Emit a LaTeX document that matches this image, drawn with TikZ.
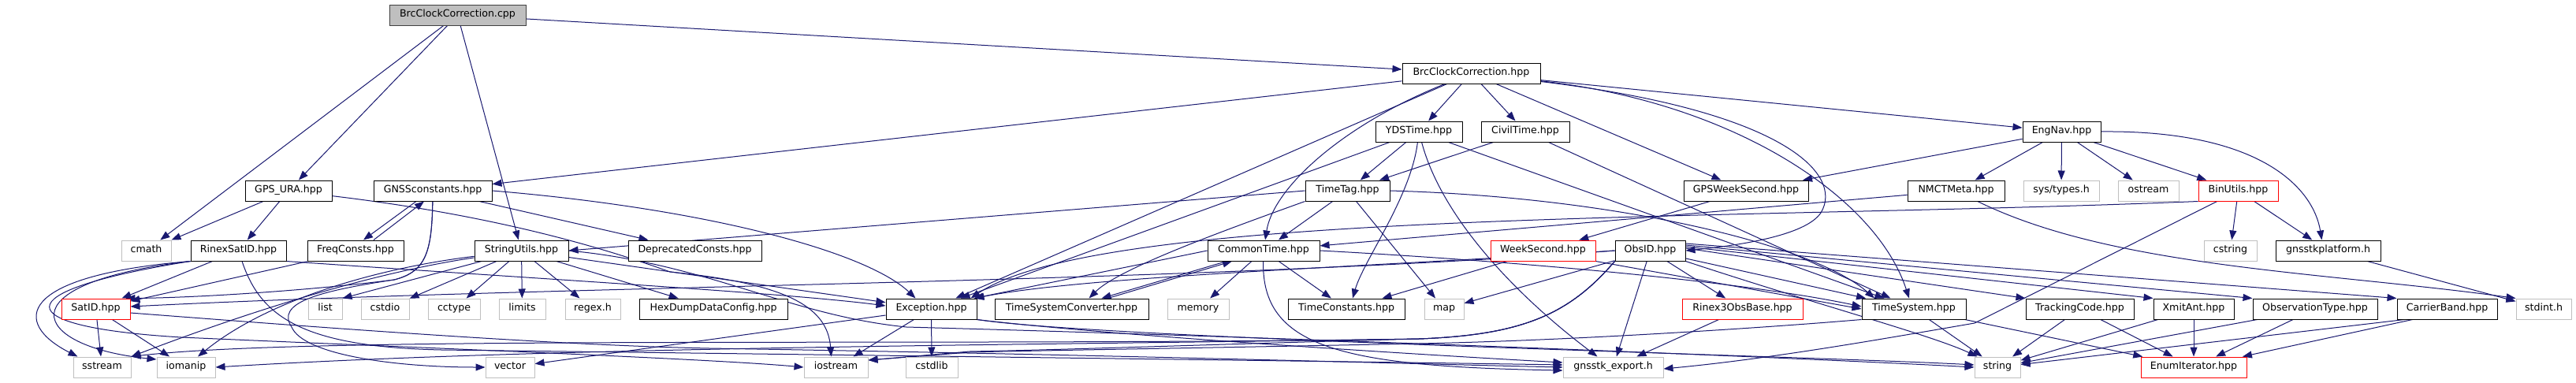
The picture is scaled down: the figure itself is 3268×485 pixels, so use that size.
\documentclass[tikz,border=0pt]{standalone}
\usepackage{fontspec}
\setmainfont{DejaVu Sans}
\usetikzlibrary{arrows.meta}
\pgfdeclarelayer{bg}
\pgfdeclarelayer{paper}
\pgfsetlayers{paper,bg,main}
\definecolor{edgec}{HTML}{191970}
\definecolor{grayb}{HTML}{BFBFBF}
\definecolor{rootb}{HTML}{404040}
\newcommand\mkn[6]{\node[#1,minimum width=#5pt] (#2) at (#3,#4) {#6};}
\begin{document}
\begin{tikzpicture}[x=1pt,y=-1pt,
  dbox/.style={draw=black,line width=1pt,minimum height=26pt,inner sep=0pt,
    font=\fontsize{12.6}{14}\selectfont,text height=8.4pt,text depth=3pt,fill=white},
  sys/.style={dbox,draw=grayb},
  trunc/.style={dbox,draw=red},
  root/.style={dbox,fill=grayb,draw=rootb},
  dep/.style={draw=edgec,line width=1pt,-{Triangle[length=12pt,width=9pt]}}]
\begin{pgfonlayer}{paper}
\fill[white] (0,0) rectangle (3268,485);
\end{pgfonlayer}
\useasboundingbox (0,0) rectangle (3268,485);
% row 0-1
\mkn{root}{cpp}{580.5}{19}{173}{BrcClockCorrection.cpp}
\mkn{dbox}{bch}{1866.5}{93}{175}{BrcClockCorrection.hpp}
% row 2
\mkn{dbox}{ydst}{1800}{167}{110}{YDSTime.hpp}
\mkn{dbox}{civ}{1935}{167}{112}{CivilTime.hpp}
\mkn{dbox}{engnav}{2615.5}{167}{99}{EngNav.hpp}
% row 3
\mkn{dbox}{gpsura}{366}{242}{110}{GPS\_URA.hpp}
\mkn{dbox}{gnssc}{549}{242}{150}{GNSSconstants.hpp}
\mkn{dbox}{ttag}{1709.5}{242}{107}{TimeTag.hpp}
\mkn{dbox}{gpsws}{2215}{242}{158}{GPSWeekSecond.hpp}
\mkn{dbox}{nmct}{2481.5}{242}{123}{NMCTMeta.hpp}
\mkn{sys}{systypes}{2615}{242}{96}{sys/types.h}
\mkn{sys}{ostream}{2725.5}{242}{77}{ostream}
\mkn{trunc}{binutils}{2839.5}{242}{101}{BinUtils.hpp}
% row 4
\mkn{sys}{cmath}{185.5}{318}{63}{cmath}
\mkn{dbox}{rsat}{302.5}{318}{121}{RinexSatID.hpp}
\mkn{dbox}{freq}{451}{318}{122}{FreqConsts.hpp}
\mkn{dbox}{strutil}{661.5}{318}{119}{StringUtils.hpp}
\mkn{dbox}{depr}{881.5}{318}{169}{DeprecatedConsts.hpp}
\mkn{dbox}{ctime}{1603}{318}{142}{CommonTime.hpp}
\mkn{trunc}{wsec}{1957.5}{318}{133}{WeekSecond.hpp}
\mkn{dbox}{obsid}{2093.5}{318}{89}{ObsID.hpp}
\mkn{sys}{cstring}{2829.5}{318}{67}{cstring}
\mkn{dbox}{plat}{2953.5}{318}{133}{gnsstkplatform.h}
% row 5
\mkn{trunc}{satid}{121.5}{392}{87}{SatID.hpp}
\mkn{sys}{list}{412.5}{392}{43}{list}
\mkn{sys}{cstdio}{488.5}{392}{61}{cstdio}
\mkn{sys}{cctype}{576}{392}{66}{cctype}
\mkn{sys}{limits}{662.5}{392}{59}{limits}
\mkn{sys}{regex}{752}{392}{70}{regex.h}
\mkn{dbox}{hexdump}{905}{392}{188}{HexDumpDataConfig.hpp}
\mkn{dbox}{exc}{1181.5}{392}{115}{Exception.hpp}
\mkn{dbox}{tsc}{1359.5}{392}{195}{TimeSystemConverter.hpp}
\mkn{sys}{memory}{1520}{392}{78}{memory}
\mkn{dbox}{tconst}{1708}{392}{148}{TimeConstants.hpp}
\mkn{sys}{map}{1832}{392}{50}{map}
\mkn{trunc}{r3ob}{2210.5}{392}{153}{Rinex3ObsBase.hpp}
\mkn{dbox}{tsys}{2428}{392}{132}{TimeSystem.hpp}
\mkn{dbox}{track}{2638.5}{392}{137}{TrackingCode.hpp}
\mkn{dbox}{xmit}{2783}{392}{102}{XmitAnt.hpp}
\mkn{dbox}{obstype}{2937}{392}{158}{ObservationType.hpp}
\mkn{dbox}{carrier}{3104.5}{392}{127}{CarrierBand.hpp}
\mkn{sys}{stdint}{3227}{392}{70}{stdint.h}
% row 6
\mkn{sys}{sstream}{129.5}{466}{73}{sstream}
\mkn{sys}{iomanip}{236}{466}{74}{iomanip}
\mkn{sys}{vector}{647}{466}{62}{vector}
\mkn{sys}{iostream}{1060.5}{466}{81}{iostream}
\mkn{sys}{cstdlib}{1182}{466}{66}{cstdlib}
\mkn{sys}{gnssexp}{2046.5}{466}{127}{gnsstk\_export.h}
\mkn{sys}{string}{2534}{466}{58}{string}
\mkn{trunc}{enumit}{2783}{466}{134}{EnumIterator.hpp}

\begin{pgfonlayer}{bg}
% cpp
\draw[dep] (cpp) -- (bch);
\draw[dep] (cpp) -- (strutil);
\draw[dep] (cpp) -- (gpsura);
\draw[dep] (cpp) -- (cmath);
% bch
\draw[dep] (bch) -- (gnssc);
\draw[dep] (bch) -- (exc);
\draw[dep] (bch) .. controls (1700,160) and (1615,240) .. (ctime);
\draw[dep] (bch) -- (ydst);
\draw[dep] (bch) -- (civ);
\draw[dep] (bch) -- (gpsws);
\draw[dep] (bch) -- (engnav);
\draw[dep] (bch) .. controls (2260,140) and (2340,220) .. (2310,270) .. controls (2290,300) and (2200,312) .. (obsid.east);
\draw[dep] (bch) .. controls (2200,130) and (2380,250) .. ([xshift=-6pt]tsys.north);
% gpsura
\draw[dep] (gpsura) -- (cmath);
\draw[dep] (gpsura) -- (rsat);
\draw[dep] (gpsura) .. controls (600,270) and (740,305) .. (850,345) .. controls (1000,360) and (1050,390) .. ([xshift=-6pt]iostream.north);
% gnssc
\draw[dep] ([xshift=-21pt]gnssc.south) -- ([xshift=10pt]freq.north);
\draw[dep] ([xshift=23pt]freq.north) -- ([xshift=-11pt]gnssc.south);
\draw[dep] (gnssc) -- (depr);
\draw[dep] (gnssc.east) .. controls (900,265) and (1100,320) .. ([xshift=-20pt]exc.north);
\draw[dep] (gnssc) .. controls (548,320) and (540,345) .. (500,355) .. controls (400,368) and (250,378) .. ([xshift=-6pt]satid.north east);
\draw[dep] (gnssc) .. controls (548,320) and (540,345) .. (500,355) .. controls (400,370) and (350,385) .. (370,415) .. controls (385,450) and (500,466) .. (vector.west);
% freq
\draw[dep] (freq) -- (satid);
% rsat
\draw[dep] (rsat) -- (satid);
\draw[dep] (rsat.south west) .. controls (20,350) and (15,410) .. ([xshift=6pt]sstream.north west);
\draw[dep] (rsat.south west) .. controls (0,360) and (40,440) .. ([yshift=10pt]iomanip.west);
\draw[dep] (rsat.south west) .. controls (0,370) and (10,415) .. (230,428) .. controls (500,440) and (900,455) .. (iostream.west);
\draw[dep] (rsat.south east) .. controls (700,355) and (1000,372) .. ([yshift=4pt]exc.west);
\draw[dep] (rsat) .. controls (330,400) and (380,440) .. (560,444) .. controls (1200,452) and (1800,460) .. ([yshift=3pt]gnssexp.west);
% satid
\draw[dep] (satid) -- (sstream);
\draw[dep] (satid) -- (iomanip);
\draw[dep] ([yshift=-5pt]satid.east) .. controls (400,415) and (700,438) .. (900,442) .. controls (1400,450) and (1800,462) .. (gnssexp.west);
% strutil
\draw[dep] (strutil) -- (list.north east);
\draw[dep] (strutil) -- (cstdio);
\draw[dep] (strutil) -- (cctype);
\draw[dep] (strutil) -- (limits);
\draw[dep] (strutil) -- (regex);
\draw[dep] (strutil) -- (hexdump);
\draw[dep] (strutil) -- (exc);
\draw[dep] (strutil) .. controls (480,345) and (330,390) .. (sstream.north east);
\draw[dep] (strutil) .. controls (480,340) and (340,380) .. ([xshift=15pt]iomanip.north);
\draw[dep] (strutil.east) .. controls (900,335) and (1000,400) .. (1150,415) .. controls (1700,430) and (2300,455) .. (string.west);
% exc
\draw[dep] (exc) -- (iostream);
\draw[dep] (exc) -- (cstdlib);
\draw[dep] (exc) -- (vector);
\draw[dep] (exc.south east) .. controls (1400,430) and (2300,452) .. ([yshift=3pt]string.west);
\draw[dep] (exc.south east) .. controls (1400,425) and (1800,450) .. ([yshift=6pt]gnssexp.west);
% ctime / tsc
\draw[dep] ([xshift=-47pt]ctime.south) -- ([xshift=38pt]tsc.north);
\draw[dep] ([xshift=46pt]tsc.north) -- ([xshift=-40pt]ctime.south);
\draw[dep] (ctime.west) -- ([xshift=-4pt]exc.north east);
\draw[dep] (ctime) -- (memory);
\draw[dep] (ctime) -- (tconst);
\draw[dep] (ctime.east) .. controls (1900,330) and (2200,355) .. ([yshift=3pt]tsys.west);
\draw[dep] (ctime) .. controls (1600,440) and (1700,465) .. ([yshift=-4pt]gnssexp.west);
% ttag
\draw[dep] (ttag) -- (ctime);
\draw[dep] (ttag.south west) .. controls (1560,290) and (1420,340) .. ([xshift=22pt]tsc.north);
\draw[dep] (ttag.west) -- (strutil.east);
\draw[dep] (ttag) -- (map);
\draw[dep] (ttag.east) .. controls (2050,250) and (2300,310) .. ([xshift=-50pt]tsys.north);
% ydst
\draw[dep] (ydst) -- (ttag);
\draw[dep] (ydst) -- (exc);
\draw[dep] (ydst) .. controls (1790,250) and (1730,330) .. ([xshift=8pt]tconst.north);
\draw[dep] (ydst) .. controls (1830,280) and (1930,380) .. ([xshift=-20pt]gnssexp.north);
\draw[dep] (ydst) -- (tsys);
% civ
\draw[dep] (civ) -- (ttag);
\draw[dep] (civ) -- (tsys);
% gpsws / wsec
\draw[dep] (gpsws) -- (wsec);
\draw[dep] (wsec) -- (tconst);
\draw[dep] (wsec.south east) -- (tsys.west);
% engnav
\draw[dep] (engnav) -- (gpsws);
\draw[dep] (engnav) -- (nmct);
\draw[dep] (engnav) -- (systypes);
\draw[dep] (engnav) -- (ostream);
\draw[dep] (engnav) -- (binutils);
\draw[dep] (engnav.east) .. controls (2870,165) and (2935,240) .. ([xshift=-8pt]plat.north);
% nmct
\draw[dep] (nmct) -- (ctime);
\draw[dep] (nmct) .. controls (2680,340) and (2950,345) .. (stdint.north west);
% binutils
\draw[dep] (binutils.south west) .. controls (2200,280) and (1400,265) .. ([xshift=-8pt]exc.north east);
\draw[dep] (binutils) -- (cstring);
\draw[dep] (binutils) -- (plat);
\draw[dep] (binutils) -- (2505,410) .. controls (2400,428) and (2250,455) .. ([yshift=-2pt]gnssexp.east);
\draw[dep] (plat) -- (stdint);
% obsid
\draw[dep] (obsid.west) .. controls (1500,360) and (700,362) .. ([yshift=3pt]satid.east);
\draw[dep] (obsid.west) .. controls (1750,338) and (1380,350) .. ([xshift=-3pt]exc.north east);
\draw[dep] (obsid.south west) .. controls (1990,400) and (1930,425) .. (1800,430) .. controls (1600,435) and (1350,444) .. (1230,446) -- ([yshift=9pt]iostream.east);
\draw[dep] (obsid.south west) .. controls (1990,400) and (1930,425) .. (1800,430) .. controls (1300,438) and (700,440) .. (iomanip.east);
\draw[dep] (obsid.south west) .. controls (1990,400) and (1930,425) .. (1800,430) .. controls (1200,440) and (400,425) .. (sstream.north east);
\draw[dep] (obsid) -- (map);
\draw[dep] (obsid) -- (gnssexp);
\draw[dep] (obsid) -- (r3ob);
\draw[dep] (obsid) -- (tsys);
\draw[dep] ([yshift=3pt]obsid.east) -- (track.north west);
\draw[dep] ([yshift=5pt]obsid.east) -- (xmit.north west);
\draw[dep] ([yshift=7pt]obsid.east) -- (obstype.north west);
\draw[dep] ([yshift=9pt]obsid.east) -- (carrier.north west);
\draw[dep] (obsid.south east) .. controls (2300,385) and (2450,425) .. ([xshift=4pt]string.north west);
% r3ob, tsys, leaves
\draw[dep] (r3ob) -- (gnssexp);
\draw[dep] (tsys.south west) .. controls (2250,415) and (2000,432) .. (1800,436) .. controls (1500,442) and (1300,445) .. (1230,447) -- ([yshift=9pt]iostream.east);
\draw[dep] (tsys) -- (string);
\draw[dep] (tsys) -- (enumit);
\draw[dep] (track) -- (string);
\draw[dep] (track) -- (enumit);
\draw[dep] (xmit) -- (string);
\draw[dep] (xmit) -- (enumit);
\draw[dep] (obstype) -- (string);
\draw[dep] (obstype) -- (enumit);
\draw[dep] ([xshift=10pt]carrier.south west) -- (string);
\draw[dep] ([xshift=20pt]carrier.south west) -- (enumit);
\end{pgfonlayer}
\end{tikzpicture}
\end{document}
